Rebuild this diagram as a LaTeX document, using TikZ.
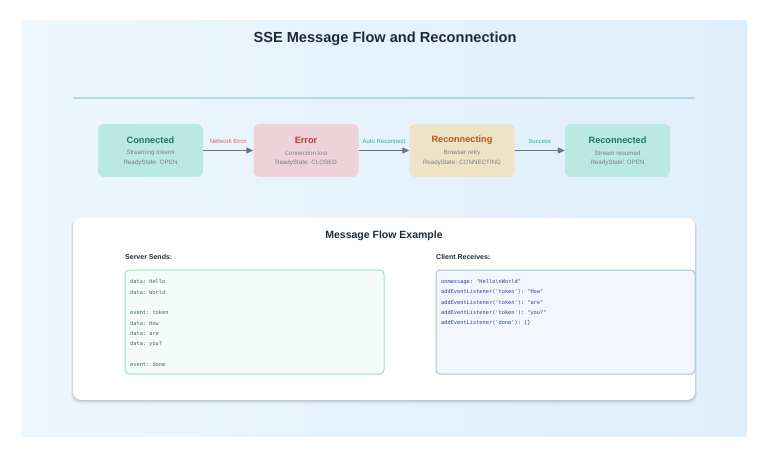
\documentclass[tikz,border=0pt]{standalone}
\usepackage{fontspec}
\setmainfont{Liberation Sans}
\setmonofont{DejaVu Sans Mono}
\usetikzlibrary{arrows.meta}
\definecolor{bgA}{HTML}{EDF7FD}
\definecolor{bgB}{HTML}{DFEEFB}
\definecolor{rule}{HTML}{B5D5F7}
\definecolor{tealF}{HTML}{BAE8E2}
\definecolor{tealT}{HTML}{1B7A5C}
\definecolor{redF}{HTML}{EED1D9}
\definecolor{redT}{HTML}{B23A3A}
\definecolor{sandF}{HTML}{EEE3C6}
\definecolor{sandT}{HTML}{B0581F}
\definecolor{subT}{HTML}{7A7F86}
\definecolor{arrC}{HTML}{6B7280}
\definecolor{lblR}{HTML}{E35A5A}
\definecolor{lblG}{HTML}{22B38F}
\definecolor{ink}{HTML}{1F2A37}
\definecolor{codeLF}{HTML}{F5FBF8}
\definecolor{codeLB}{HTML}{98E2C6}
\definecolor{codeLT}{HTML}{3D6B5E}
\definecolor{codeRF}{HTML}{F3F6FD}
\definecolor{codeRB}{HTML}{A9C3F0}
\definecolor{codeRT}{HTML}{2F3F9A}
\tikzset{
  state/.style={rounded corners=6pt, minimum width=105pt, minimum height=53pt, inner sep=0pt, draw=none},
  sttitle/.style={font=\fontsize{9.2}{10}\selectfont\bfseries},
  stsub/.style={font=\fontsize{6.2}{7}\selectfont, text=subT},
  arr/.style={draw=arrC, line width=1.1pt, -{Triangle[length=7pt,width=6pt]}},
  arrlbl/.style={font=\fontsize{6}{7}\selectfont, above=3pt},
  codebox/.style={rounded corners=4pt, line width=1pt, minimum width=259pt, minimum height=104pt, inner sep=0pt},
  codeline/.style={font=\ttfamily\fontsize{5.3}{6}\selectfont, anchor=west, inner sep=0pt},
  head/.style={font=\fontsize{7}{8}\selectfont\bfseries, text=ink, anchor=west, inner sep=0pt}
}
\begin{document}
\begin{tikzpicture}[x=1pt,y=-1pt]
\useasboundingbox (0,0) rectangle (768,457);
\fill[white] (0,0) rectangle (768,457);
\shade[left color=bgA, right color=bgB] (21,21) rectangle (747,436);
\node[font=\fontsize{14.6}{16}\selectfont\bfseries, text=ink] (title) at (385,38.5) {SSE Message Flow and Reconnection};
\draw[rule, line width=1.6pt] (73,98) -- (695,98);

\node[state, fill=tealF] (c1) at (150.5,150.5) {};
\node[state, fill=redF] (e1) at (306,150.5) {};
\node[state, fill=sandF] (r1) at (462,150.5) {};
\node[state, fill=tealF] (r2) at (617.5,150.5) {};

\node[sttitle, text=tealT] (c1t) at ([yshift=10.5pt]c1.center) {Connected};
\node[stsub] (c1a) at ([yshift=-2.5pt]c1.center) {Streaming tokens};
\node[stsub] (c1b) at ([yshift=-12.5pt]c1.center) {ReadyState: OPEN};

\node[sttitle, text=redT] (e1t) at ([yshift=10.5pt]e1.center) {Error};
\node[stsub] (e1a) at ([yshift=-2.5pt]e1.center) {Connection lost};
\node[stsub] (e1b) at ([yshift=-12.5pt]e1.center) {ReadyState: CLOSED};

\node[sttitle, text=sandT] (r1t) at ([yshift=10.5pt]r1.center) {Reconnecting};
\node[stsub] (r1a) at ([yshift=-2.5pt]r1.center) {Browser retry};
\node[stsub] (r1b) at ([yshift=-12.5pt]r1.center) {ReadyState: CONNECTING};

\node[sttitle, text=tealT] (r2t) at ([yshift=10.5pt]r2.center) {Reconnected};
\node[stsub] (r2a) at ([yshift=-2.5pt]r2.center) {Stream resumed};
\node[stsub] (r2b) at ([yshift=-12.5pt]r2.center) {ReadyState: OPEN};

\draw[arr] (c1.east) -- (e1.west) node[midway, arrlbl, text=lblR] {Network Error};
\draw[arr] (e1.east) -- (r1.west) node[midway, arrlbl, text=lblG] {Auto Reconnect};
\draw[arr] (r1.east) -- (r2.west) node[midway, arrlbl, text=lblG] {Success};

% bottom card with shadow
\fill[black, opacity=0.05, rounded corners=9pt] (71,219) rectangle (697,404);
\fill[black, opacity=0.07, rounded corners=8pt] (72,219) rectangle (696,402);
\fill[black, opacity=0.08, rounded corners=8pt] (73,219) rectangle (695,401);
\node[draw=none, fill=white, rounded corners=8pt, minimum width=622pt, minimum height=182pt, inner sep=0pt] (card) at (384,309) {};
\node[font=\fontsize{10.5}{12}\selectfont\bfseries, text=ink] (cardt) at (384,236) {Message Flow Example};

\node[head] (hs) at (125,257) {Server Sends:};
\node[head] (hc) at (436,257) {Client Receives:};

\node[codebox, fill=codeLF, draw=codeLB] (lb) at (254.5,322) {};
\node[codebox, fill=codeRF, draw=codeRB] (rb) at (565.5,322) {};

\begin{scope}[every node/.style={codeline, text=codeLT}]
\node (l1) at (130,282) {data: Hello};
\node (l2) at (130,292.3) {data: World};
\node (l3) at (130,312.8) {event: token};
\node (l4) at (130,323.1) {data: How};
\node (l5) at (130,333.4) {data: are};
\node (l6) at (130,343.7) {data: you?};
\node (l7) at (130,364.2) {event: done};
\end{scope}
\begin{scope}[every node/.style={codeline, text=codeRT}]
\node (m1) at (441,282) {onmessage: "Hello\textbackslash nWorld"};
\node (m2) at (441,292.3) {addEventListener('token'): "How"};
\node (m3) at (441,302.6) {addEventListener('token'): "are"};
\node (m4) at (441,312.9) {addEventListener('token'): "you?"};
\node (m5) at (441,323.2) {addEventListener('done'): \{\}};
\end{scope}
\end{tikzpicture}
\end{document}
